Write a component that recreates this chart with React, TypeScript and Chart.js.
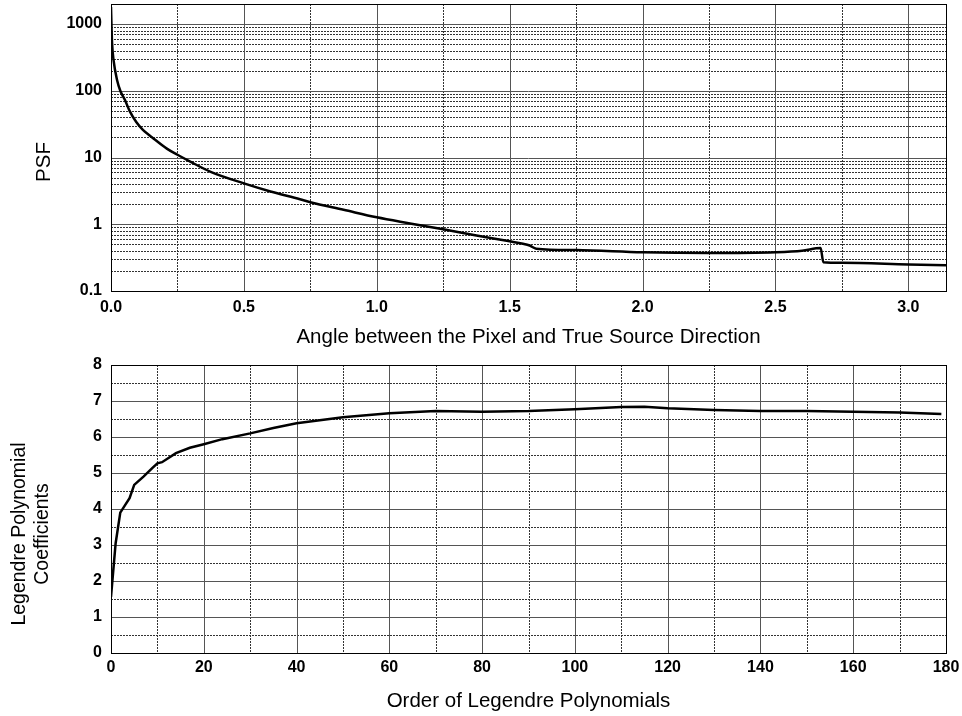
import React, { useEffect, useRef } from "react";
import { Chart, registerables } from "chart.js";
Chart.register(...registerables);

const FONT = "'Liberation Sans', Arial, sans-serif";

// ---------- Top chart: PSF vs angle ----------
const psfAngle = [0, 0.002, 0.004, 0.01, 0.023, 0.035, 0.053, 0.07, 0.095, 0.12, 0.155, 0.21, 0.25, 0.3, 0.375, 0.5, 0.6, 0.711, 0.75, 0.875, 1.0, 1.125, 1.25, 1.375, 1.5, 1.55, 1.575, 1.6, 1.75, 2.0, 2.25, 2.5, 2.6, 2.67, 2.68, 2.75, 3.0, 3.1416];
const psfValue = [1800, 900, 520, 280, 144, 100, 72, 50, 34, 26, 20, 13.6, 11, 8.6, 6.1, 4.1, 3.1, 2.37, 2.14, 1.65, 1.27, 1.03, 0.84, 0.68, 0.556, 0.51, 0.48, 0.43, 0.41, 0.38, 0.37, 0.38, 0.4, 0.44, 0.27, 0.265, 0.25, 0.243];
const psfXTicks = [0, 0.5, 1.0, 1.5, 2.0, 2.5, 3.0];
const psfXMinor = [0.25, 0.75, 1.25, 1.75, 2.25, 2.75];
const psfYTicks = [0.1, 1, 10, 100, 1000];
const psfYMinorFactors = [2, 3, 4, 5, 6, 7, 8, 9];
const psfXTitle = "Angle between the Pixel and True Source Direction";
const psfYTitle = ["PSF"];

// ---------- Bottom chart: Legendre coefficients ----------
const legOrder = [0, 1, 2, 3, 4, 5, 7, 9, 10, 11, 14, 17, 20, 24, 30, 35, 40, 50, 60, 70, 80, 90, 100, 110, 115, 120, 130, 140, 150, 160, 170, 179];
const legCoef = [1.56, 3.05, 3.9, 4.1, 4.3, 4.67, 4.9, 5.15, 5.27, 5.3, 5.55, 5.7, 5.8, 5.94, 6.1, 6.25, 6.38, 6.55, 6.66, 6.72, 6.7, 6.72, 6.77, 6.83, 6.84, 6.8, 6.75, 6.72, 6.72, 6.7, 6.68, 6.64];
const legXTicks = [0, 20, 40, 60, 80, 100, 120, 140, 160, 180];
const legXMinor = [10, 30, 50, 70, 90, 110, 130, 150, 170];
const legYTicks = [0, 1, 2, 3, 4, 5, 6, 7, 8];
const legYMinor = [0.5, 1.5, 2.5, 3.5, 4.5, 5.5, 6.5, 7.5];
const legXTitle = "Order of Legendre Polynomials";
const legYTitle = ["Legendre Polynomial", "Coefficients"];

type GridCfg = {
  xMajor: number[]; xMinor: number[]; yMajor: number[]; yMinor: number[];
  title: string[]; titleX: number[]; titleY: number; titleSize: number;
};

function makeGrid(cfg: GridCfg) {
  return {
    id: "paperGrid",
    beforeDatasetsDraw(chart: any) {
      const { ctx, chartArea: a, scales } = chart;
      const xs = scales.x, ys = scales.y;
      ctx.save();
      ctx.lineWidth = 1;
      const vline = (v: number) => {
        if (v < xs.min || v > xs.max) return;
        const px = Math.round(xs.getPixelForValue(v)) + 0.5;
        ctx.beginPath(); ctx.moveTo(px, a.top); ctx.lineTo(px, a.bottom); ctx.stroke();
      };
      const hline = (v: number) => {
        if (v < ys.min || v > ys.max) return;
        const py = Math.round(ys.getPixelForValue(v)) + 0.5;
        ctx.beginPath(); ctx.moveTo(a.left, py); ctx.lineTo(a.right, py); ctx.stroke();
      };
      ctx.strokeStyle = "#333";
      ctx.setLineDash([2, 1]);
      cfg.xMinor.forEach(vline);
      cfg.yMinor.forEach(hline);
      ctx.setLineDash([]);
      ctx.strokeStyle = "#555";
      cfg.xMajor.forEach(vline);
      cfg.yMajor.forEach(hline);
      ctx.strokeStyle = "#000";
      ctx.strokeRect(Math.round(a.left) + 0.5, Math.round(a.top) + 0.5, Math.round(a.right - a.left), Math.round(a.bottom - a.top));
      ctx.restore();
    },
    afterDraw(chart: any) {
      const { ctx } = chart;
      ctx.save();
      ctx.fillStyle = "#000";
      ctx.font = `${cfg.titleSize}px ${FONT}`;
      ctx.textAlign = "center";
      ctx.textBaseline = "middle";
      cfg.title.forEach((t, i) => {
        ctx.save();
        ctx.translate(cfg.titleX[i], cfg.titleY);
        ctx.rotate(-Math.PI / 2);
        ctx.fillText(t, 0, 0);
        ctx.restore();
      });
      ctx.restore();
    },
  };
}

const tickFont = { family: FONT, size: 16, weight: "bold" as const };
const titleFont = { family: FONT, size: 20.5 };

const fitX = (h: number) => (s: any) => { s.height = h; s.paddingLeft = 0; s.paddingRight = 0; };
const fitY = (s: any) => { s.width = 111; s.paddingTop = 0; s.paddingBottom = 0; };

function buildTop() {
  const yMinor: number[] = [];
  psfYTicks.forEach((d) => psfYMinorFactors.forEach((f) => yMinor.push(d * f)));
  return {
    type: "line" as const,
    data: {
      datasets: [{
        data: psfAngle.map((x, i) => ({ x, y: psfValue[i] })),
        borderColor: "#000", borderWidth: 2.5, pointRadius: 0,
        cubicInterpolationMode: "monotone" as const, fill: false,
      }],
    },
    options: {
      responsive: false, animation: false as const, devicePixelRatio: 1,
      layout: { padding: { left: 0, right: 16, top: 4, bottom: 0 } },
      plugins: { legend: { display: false }, tooltip: { enabled: false } },
      scales: {
        x: {
          type: "linear" as const, min: 0, max: Math.PI,
          afterBuildTicks: (s: any) => { s.ticks = psfXTicks.map((value) => ({ value })); },
          afterFit: fitX(59),
          grid: { display: false, drawTicks: false }, border: { display: false },
          ticks: { autoSkip: false, maxRotation: 0, padding: 7, color: "#000", font: tickFont,
            callback: (v: any) => Number(v).toFixed(1) },
          title: { display: true, text: psfXTitle, color: "#000", font: titleFont, padding: { top: 0, bottom: 0 } },
        },
        y: {
          type: "logarithmic" as const, min: 0.1, max: 2000,
          afterBuildTicks: (s: any) => { s.ticks = psfYTicks.map((value) => ({ value })); },
          afterFit: fitY,
          grid: { display: false, drawTicks: false }, border: { display: false },
          ticks: { autoSkip: false, padding: 9, color: "#000", font: tickFont, callback: (v: any) => String(v) },
        },
      },
    },
    plugins: [makeGrid({ xMajor: psfXTicks, xMinor: psfXMinor, yMajor: psfYTicks, yMinor,
      title: psfYTitle, titleX: [44], titleY: 162, titleSize: 20.5 })],
  };
}

function buildBottom() {
  return {
    type: "line" as const,
    data: {
      datasets: [{
        data: legOrder.map((x, i) => ({ x, y: legCoef[i] })),
        borderColor: "#000", borderWidth: 2.5, pointRadius: 0, tension: 0, fill: false,
      }],
    },
    options: {
      responsive: false, animation: false as const, devicePixelRatio: 1,
      layout: { padding: { left: 0, right: 16, top: 15, bottom: 0 } },
      plugins: { legend: { display: false }, tooltip: { enabled: false } },
      scales: {
        x: {
          type: "linear" as const, min: 0, max: 180,
          afterBuildTicks: (s: any) => { s.ticks = legXTicks.map((value) => ({ value })); },
          afterFit: fitX(63),
          grid: { display: false, drawTicks: false }, border: { display: false },
          ticks: { autoSkip: false, maxRotation: 0, padding: 5, color: "#000", font: tickFont },
          title: { display: true, text: legXTitle, color: "#000", font: titleFont, padding: { top: 0, bottom: 2 } },
        },
        y: {
          type: "linear" as const, min: 0, max: 8,
          afterBuildTicks: (s: any) => { s.ticks = legYTicks.map((value) => ({ value })); },
          afterFit: fitY,
          grid: { display: false, drawTicks: false }, border: { display: false },
          ticks: { autoSkip: false, padding: 9, color: "#000", font: tickFont },
        },
      },
    },
    plugins: [makeGrid({ xMajor: legXTicks, xMinor: legXMinor, yMajor: legYTicks, yMinor: legYMinor,
      title: legYTitle, titleX: [20, 43], titleY: 184, titleSize: 19.5 })],
  };
}

function PlotCanvas({ top, height, build }: { top: number; height: number; build: () => any }) {
  const ref = useRef<HTMLCanvasElement | null>(null);
  useEffect(() => {
    const chart = new Chart(ref.current as HTMLCanvasElement, build());
    return () => chart.destroy();
  }, []);
  return (
    <canvas ref={ref} width={962} height={height}
      style={{ position: "absolute", left: 0, top, width: 962, height, display: "block" }} />
  );
}

export default function App() {
  return (
    <div style={{ position: "absolute", left: 0, top: 0, width: 962, height: 716, background: "#fff" }}>
      <PlotCanvas top={0} height={350} build={buildTop} />
      <PlotCanvas top={350} height={366} build={buildBottom} />
    </div>
  );
}
